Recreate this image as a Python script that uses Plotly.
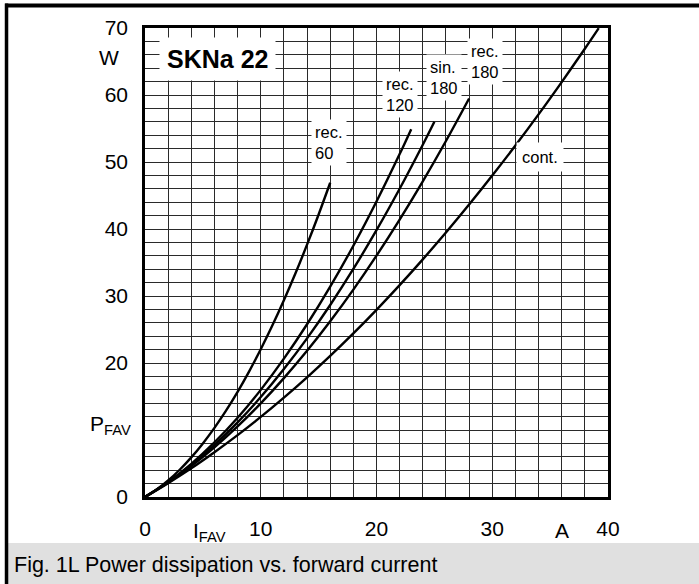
import plotly.graph_objects as go

# ---- data (I_FAV in A, P_FAV in W) ----
rec60_i = [0, 1, 2, 3, 4, 5, 6, 7, 8, 9, 10, 11, 12, 13, 14, 15, 16]
rec60_p = [0, 1.11, 2.47, 4.07, 5.91, 8.00, 10.32, 12.89, 15.70, 18.76, 22.05,
           25.59, 29.37, 33.39, 37.66, 42.17, 46.9]

rec120_i = [0, 2, 4, 6, 8, 10, 12, 14, 16, 18, 20, 22, 23]
rec120_p = [0, 2.23, 4.94, 8.14, 11.82, 15.99, 20.65, 25.78, 31.40, 37.50, 44.10, 51.18, 54.9]

sin180_i = [0, 2, 4, 6, 8, 10, 12, 14, 16, 18, 20, 22, 24, 25]
sin180_p = [0, 2.19, 4.77, 7.76, 11.13, 14.92, 19.11, 23.68, 28.66, 34.04, 39.82, 46.00, 52.57, 56.0]

rec180_i = [0, 2, 4, 6, 8, 10, 12, 14, 16, 18, 20, 22, 24, 26, 28]
rec180_p = [0, 2.15, 4.62, 7.41, 10.53, 13.97, 17.74, 21.82, 26.23, 30.96, 36.02, 41.40, 47.10, 53.13, 59.47]

cont_i = [0, 2, 4, 6, 8, 10, 12, 14, 16, 18, 20, 22, 24, 26, 28, 30, 32, 34, 36, 38, 39.2]
cont_p = [0, 2.07, 4.29, 6.69, 9.23, 11.95, 14.83, 17.86, 21.06, 24.42, 27.94, 31.62, 35.47,
          39.47, 43.64, 47.97, 52.46, 57.11, 61.93, 66.90, 69.97]

x_tickvals = [0, 10, 20, 30, 40]
x_ticktext = ["0", "10", "20", "30", "40"]
y_tickvals = [0, 20, 30, 40, 50, 60, 70]
y_ticktext = ["0", "20", "30", "40", "50", "60", "70"]

FONT = "Liberation Sans, Arial, Helvetica, sans-serif"
GRID = "#2a2a2a"

fig = go.Figure()
for xs, ys in [(rec60_i, rec60_p), (rec120_i, rec120_p), (sin180_i, sin180_p),
               (rec180_i, rec180_p), (cont_i, cont_p)]:
    fig.add_trace(go.Scatter(x=xs, y=ys, mode="lines", line=dict(color="black", width=2.4, shape="spline"),
                             showlegend=False, hoverinfo="skip"))

fig.update_layout(
    width=699, height=584,
    margin=dict(l=145, r=91, t=28, b=87),
    paper_bgcolor="white", plot_bgcolor="white",
    font=dict(family=FONT, color="black", size=21),
    xaxis=dict(range=[0, 40], tickvals=x_tickvals, ticktext=x_ticktext, showgrid=True,
               gridcolor=GRID, gridwidth=1.4, zeroline=False, showline=True, mirror=True,
               linecolor="black", linewidth=2.5, ticks="", ticklabelstandoff=11,
               tickfont=dict(size=21, family=FONT),
               minor=dict(tick0=0, dtick=2, showgrid=True, gridcolor=GRID, gridwidth=1.4, ticks="")),
    yaxis=dict(range=[0, 70], tickvals=y_tickvals, ticktext=y_ticktext, showgrid=True,
               gridcolor=GRID, gridwidth=1.4, zeroline=False, showline=True, mirror=True,
               linecolor="black", linewidth=2.5, ticks="", ticklabelstandoff=10,
               tickfont=dict(size=21, family=FONT),
               minor=dict(tick0=0, dtick=2, showgrid=True, gridcolor=GRID, gridwidth=1.4, ticks="")),
)

# frame and caption band
fig.add_shape(type="rect", xref="paper", yref="paper", x0=-0.2959, x1=1.2, y0=-0.0981, y1=-0.19,
              fillcolor="#e0e0e0", line=dict(width=0), layer="below")
fig.add_shape(type="line", xref="paper", yref="paper", x0=-0.302, x1=1.2, y0=1.048, y1=1.048,
              line=dict(color="black", width=4))
fig.add_shape(type="line", xref="paper", yref="paper", x0=-0.2991, x1=-0.2991, y0=1.052, y1=-0.19,
              line=dict(color="black", width=3.5))

anns = [
    dict(text="<b>SKNa 22</b>", x=6.26, y=65.4, font=dict(size=25), borderpad=7),
    dict(text="rec.<br>60", x=15.93, y=52.9, font=dict(size=16.5), borderpad=3, align="left"),
    dict(text="rec.<br>120", x=22.02, y=60.1, font=dict(size=16.5), borderpad=3, align="left"),
    dict(text="sin.<br>180", x=25.86, y=62.6, font=dict(size=16.5), borderpad=3, align="left"),
    dict(text="rec.<br>180", x=29.4, y=65.0, font=dict(size=16.5), borderpad=3, align="left"),
    dict(text="cont.", x=34.1, y=50.7, font=dict(size=16.5), borderpad=5),
]
for a in anns:
    fig.add_annotation(xref="x", yref="y", showarrow=False, bgcolor="white",
                       xanchor="center", yanchor="middle", **a)

fig.add_annotation(text="SKNa22.xls-01", xref="paper", yref="y", x=0.978, y=72.05,
                   xanchor="right", yanchor="middle", showarrow=False, font=dict(size=11))
fig.add_annotation(text="W", xref="paper", yref="y", x=-0.0778, y=65.55,
                   xanchor="center", yanchor="middle", showarrow=False, font=dict(size=21))
fig.add_annotation(text="P<sub>FAV</sub>", xref="paper", yref="y", x=-0.026, y=10.7,
                   xanchor="right", yanchor="middle", showarrow=False, font=dict(size=21))
fig.add_annotation(text="I<sub>FAV</sub>", xref="x", yref="paper", x=5.6, y=-0.074,
                   xanchor="center", yanchor="middle", showarrow=False, font=dict(size=21))
fig.add_annotation(text="A", xref="x", yref="paper", x=36.05, y=-0.072,
                   xanchor="center", yanchor="middle", showarrow=False, font=dict(size=21))
fig.add_annotation(text="Fig. 1L Power dissipation vs. forward current", xref="paper", yref="paper",
                   x=-0.2873, y=-0.145, xanchor="left", yanchor="middle", showarrow=False,
                   font=dict(size=21.5))

fig.write_html("out.html", config={"displayModeBar": False},
               post_script="document.body.style.margin='0';document.body.style.overflow='hidden';")
